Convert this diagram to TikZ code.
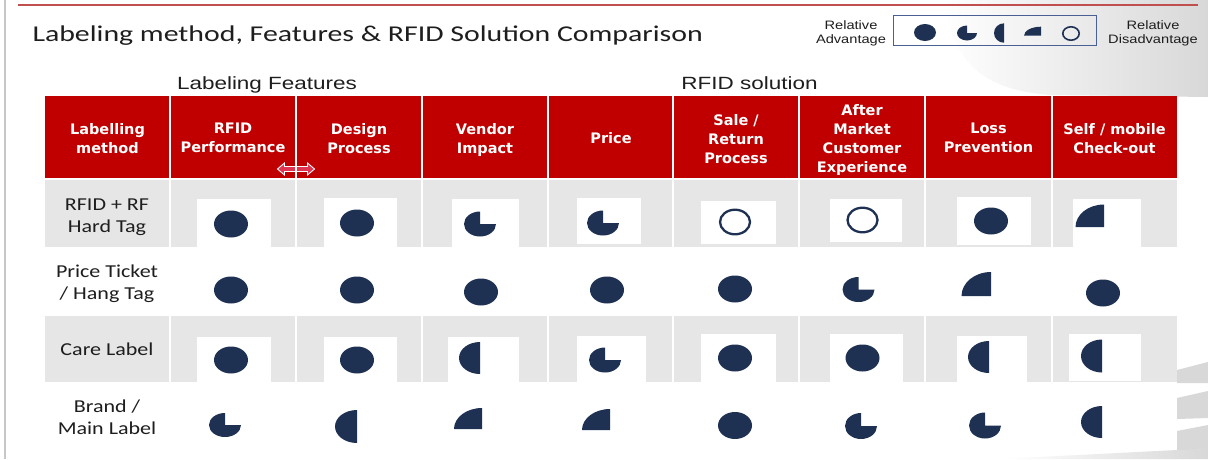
\documentclass[tikz,border=0pt]{standalone}
\usepackage{fontspec}
\newfontfamily\calfont{Carlito}
\newfontfamily\arfont{Liberation Sans}
\newfontfamily\verfont{DejaVu Sans}
\definecolor{hdrred}{RGB}{192,0,0}
\definecolor{rowgray}{RGB}{230,230,230}
\definecolor{markblue}{RGB}{31,49,82}
\definecolor{rulered}{RGB}{192,80,77}
\definecolor{boxblue}{RGB}{72,96,148}
\definecolor{arrowred}{RGB}{222,52,82}
\definecolor{swoosh}{RGB}{216,216,216}
\definecolor{inkgray}{RGB}{30,30,30}

% rating marks: centre x, centre y, x radius, y radius
\newcommand\mkfull[4]{\fill[markblue] (#1,#2) ellipse[x radius=#3pt, y radius=#4pt];}
\newcommand\mkring[5]{\draw[markblue, line width=#5pt] (#1,#2) ellipse[x radius=#3pt, y radius=#4pt];}
\newcommand\mkthree[4]{\fill[markblue] (#1,#2) -- (#1,#2-#4) arc[start angle=90, end angle=360, x radius=#3pt, y radius=#4pt] -- cycle;}
\newcommand\mkhalf[4]{\fill[markblue] (#1,#2-#4) arc[start angle=90, end angle=270, x radius=#3pt, y radius=#4pt] -- cycle;}
\newcommand\mkquarter[4]{\fill[markblue] (#1,#2) -- (#1,#2-#4) arc[start angle=90, end angle=180, x radius=#3pt, y radius=#4pt] -- cycle;}

\begin{document}
\begin{tikzpicture}[x=1pt,y=-1pt,
  every node/.style={inner sep=0pt, outer sep=0pt},
  titletext/.style={font=\calfont\fontsize{22.6}{26}\selectfont, xscale=1.32, text=inkgray},
  legtext/.style={font=\arfont\fontsize{12.2}{13.7}\selectfont, xscale=1.2, align=center, text=inkgray},
  sectext/.style={font=\arfont\fontsize{17.7}{21}\selectfont, xscale=1.27, text=inkgray},
  hdrtext/.style={font=\verfont\bfseries\fontsize{14.5}{19}\selectfont, align=center, text=white},
  rowtext/.style={font=\calfont\fontsize{18.2}{22}\selectfont, xscale=1.21, align=center, text=inkgray},
  cellwhite/.style={fill=white},
  divider/.style={draw=white, line width=1.3pt},
]
\useasboundingbox (0,0) rectangle (1208,459);
\fill[white] (0,0) rectangle (1208,459);

% decorative grey swooshes in the corners
\shade[left color=white, right color=swoosh] (940,0) -- (1208,0) -- (1208,97) -- (1050,95) .. controls (1000,91) and (970,75) .. (955,40) -- cycle;
\fill[swoosh] (1177,370) -- (1208,362) -- (1208,383) -- (1177,383) -- cycle;
\fill[swoosh] (1177,398) -- (1208,391) -- (1208,418) -- (1177,419) -- cycle;
\fill[swoosh] (1177,431) -- (1208,425) -- (1208,449) -- (1177,451) -- cycle;
\shade[left color=white, right color=swoosh] (1000,459) -- (1177,450) -- (1208,449) -- (1208,459) -- cycle;

% page rules
\draw[black!22, line width=2pt] (5,0) -- (5,459);
\draw[rulered, line width=1.6pt] (18,5) -- (1198,5);

% title
\node[titletext, anchor=base west] (title) at (32.5,41) {Labeling method, Features \& RFID Solution Comparison};

% legend
\draw[boxblue, line width=1pt] (893,15) rectangle (1096,45);
\node[legtext, anchor=north] (legadv) at (851,20.8) {Relative\\Advantage};
\node[legtext, anchor=north] (legdis) at (1153,20.8) {Relative\\Disadvantage};
\mkfull{925}{32.5}{11}{8.5}
\mkthree{967}{33}{10}{7.5}
\mkhalf{1004}{33}{10}{9.7}
\mkquarter{1041}{35.7}{17}{9}
\mkring{1071}{33.5}{8.2}{6.7}{1.6}

% section headings
\node[sectext, anchor=base] (secfeat) at (267,89.5) {Labeling Features};
\node[sectext, anchor=base] (secrfid) at (749.5,89.5) {RFID solution};

% table bands
\fill[hdrred] (45,96) rectangle (1177,178);
\fill[rowgray] (45,180) rectangle (1177,247);
\fill[rowgray] (45,316) rectangle (1177,382);

% white backing patches behind marks in grey rows
\foreach \a/\b/\c/\d in {197/199/271/247, 324/198/397/247, 452/199/519/247, 577/198/641/244,
                         701/201/776/244, 830/199/902/242, 957/197/1031/245, 1073/199/1141/247,
                         197/337/271/382, 324/337/397/382, 448/337/519/382, 577/336/646/382,
                         701/334/776/382, 830/334/903/382, 957/336/1027/382, 1069/334/1141/381}
  \fill[cellwhite] (\a,\b) rectangle (\c,\d);

% double arrow between the feature columns
\filldraw[fill=arrowred, draw=white, line width=0.9pt]
  (277.5,169) -- (284.5,163) -- (284.5,166.5) -- (307.5,166.5) -- (307.5,163) -- (314.5,169)
  -- (307.5,175) -- (307.5,171.5) -- (284.5,171.5) -- (284.5,175) -- cycle;

% column dividers
\foreach \x in {170,296,422,548,673,799,925,1052} {
  \draw[divider] (\x,96) -- (\x,178);
  \draw[divider] (\x,180) -- (\x,247);
  \draw[divider] (\x,316) -- (\x,382);
}

% column headings
\node[hdrtext, anchor=north] (h0) at (107.5,123) {Labelling\\method};
\node[hdrtext, anchor=north] (h1) at (233,123) {RFID\\Performance};
\node[hdrtext, anchor=north] (h2) at (359,123) {Design\\Process};
\node[hdrtext, anchor=north] (h3) at (485,123) {Vendor\\Impact};
\node[hdrtext, anchor=base]  (h4) at (611,143) {Price};
\node[hdrtext, anchor=north] (h5) at (736,114) {Sale /\\Return\\Process};
\node[hdrtext, anchor=north] (h6) at (862,104) {After\\Market\\Customer\\Experience};
\node[hdrtext, anchor=north] (h7) at (988.5,123) {Loss\\Prevention};
\node[hdrtext, anchor=north] (h8) at (1114.5,123) {Self / mobile\\Check-out};

% row headings
\node[rowtext, anchor=north] (r1) at (107,198.5) {RFID + RF\\Hard Tag};
\node[rowtext, anchor=north] (r2) at (107,265) {Price Ticket\\/ Hang Tag};
\node[rowtext, anchor=base]  (r3) at (107,355) {Care Label};
\node[rowtext, anchor=north] (r4) at (107,400) {Brand /\\Main Label};

% row 1: RFID + RF Hard Tag
\mkfull{231}{224}{17}{13.5}
\mkfull{357}{223}{17}{13.5}
\mkthree{480}{224}{16}{12.5}
\mkthree{603}{223}{16}{12.5}
\mkring{735}{222}{15}{12.3}{2.3}
\mkring{862.5}{220}{15}{12.3}{2.3}
\mkfull{991}{221}{17}{13.5}
\mkquarter{1104}{227}{28.5}{22.5}

% row 2: Price Ticket / Hang Tag
\mkfull{231}{290}{17}{13.5}
\mkfull{357}{290}{17}{13.5}
\mkfull{481}{292}{17}{13.5}
\mkfull{607}{290}{17}{13.5}
\mkfull{735}{289}{17}{13.5}
\mkthree{858.5}{289.5}{16}{12.5}
\mkquarter{991}{296}{29.5}{24}
\mkfull{1103}{293}{17}{13.5}

% row 3: Care Label
\mkfull{231}{360}{17}{13.5}
\mkfull{357}{360}{17}{13.5}
\mkhalf{480}{358}{21}{16}
\mkthree{605}{360}{16}{12.5}
\mkfull{735}{358}{17}{13.5}
\mkfull{862.5}{358}{17}{13.5}
\mkhalf{989}{357}{21}{16}
\mkhalf{1102}{356}{21}{16.5}

% row 4: Brand / Main Label
\mkthree{225}{425}{16}{12}
\mkhalf{357}{426.5}{22}{16.5}
\mkquarter{482}{429}{28}{21}
\mkquarter{610}{430}{28}{21}
\mkfull{735}{425.5}{17}{13.5}
\mkthree{861}{426}{16}{13}
\mkthree{985}{425.5}{16}{13}
\mkhalf{1102}{422}{21}{16}
\end{tikzpicture}
\end{document}
